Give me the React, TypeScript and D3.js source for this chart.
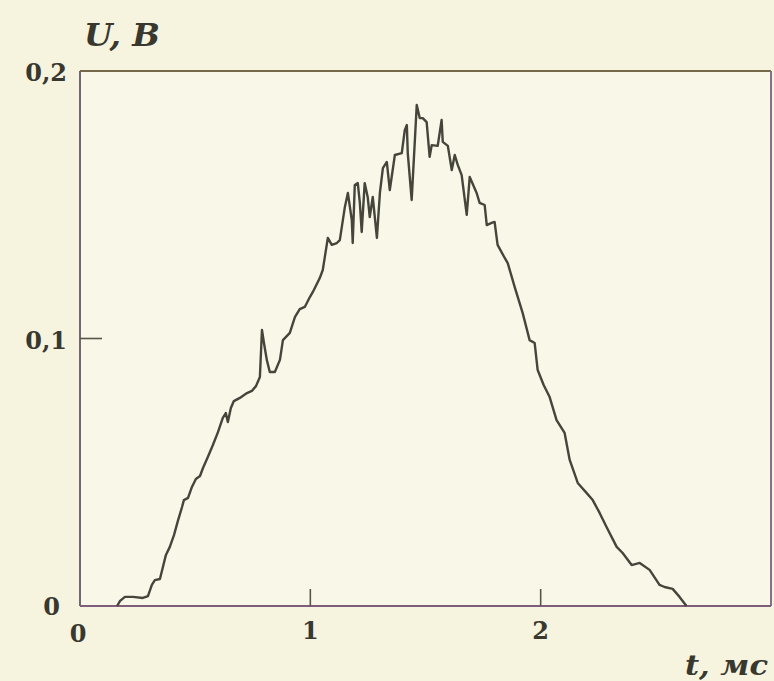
import React from "react";
import * as d3 from "d3";

// time, ms
const tValues = [
  0.161, 0.174, 0.195, 0.230, 0.273, 0.295, 0.312, 0.325, 0.347, 0.360,
  0.373, 0.390, 0.408, 0.425, 0.443, 0.451, 0.469, 0.486, 0.503, 0.521,
  0.534, 0.555, 0.577, 0.599, 0.620, 0.633, 0.642, 0.655, 0.668, 0.694,
  0.725, 0.746, 0.764, 0.781, 0.790, 0.798, 0.811, 0.824, 0.846, 0.868,
  0.881, 0.911, 0.933, 0.954, 0.976, 0.998, 1.011, 1.041, 1.054, 1.063,
  1.076, 1.093, 1.115, 1.128, 1.150, 1.163, 1.180, 1.184, 1.193, 1.206,
  1.215, 1.223, 1.236, 1.249, 1.258, 1.271, 1.289, 1.302, 1.315, 1.332,
  1.345, 1.367, 1.397, 1.410, 1.419, 1.423, 1.440, 1.462, 1.475, 1.488,
  1.505, 1.518, 1.527, 1.553, 1.570, 1.575, 1.597, 1.614, 1.627, 1.640,
  1.657, 1.679, 1.692, 1.722, 1.735, 1.757, 1.766, 1.787, 1.800, 1.813,
  1.844, 1.857, 1.887, 1.922, 1.952, 1.974, 1.987, 2.013, 2.039, 2.069,
  2.104, 2.126, 2.161, 2.200, 2.226, 2.256, 2.286, 2.330, 2.356, 2.395,
  2.430, 2.473, 2.516, 2.538, 2.573, 2.603, 2.633,
];

// voltage, V
const uValues = [
  0.0000, 0.0019, 0.0034, 0.0034, 0.0030, 0.0037, 0.0079, 0.0097, 0.0101, 0.0146,
  0.0191, 0.0221, 0.0265, 0.0318, 0.0370, 0.0396, 0.0404, 0.0445, 0.0475, 0.0486,
  0.0516, 0.0557, 0.0602, 0.0650, 0.0703, 0.0721, 0.0688, 0.0740, 0.0766, 0.0778,
  0.0796, 0.0804, 0.0822, 0.0856, 0.1032, 0.0987, 0.0920, 0.0875, 0.0875, 0.0920,
  0.0994, 0.1021, 0.1080, 0.1110, 0.1118, 0.1155, 0.1174, 0.1226, 0.1256, 0.1305,
  0.1376, 0.1350, 0.1357, 0.1368, 0.1492, 0.1544, 0.1443, 0.1357, 0.1574, 0.1581,
  0.1507, 0.1398, 0.1581, 0.1529, 0.1454, 0.1529, 0.1376, 0.1544, 0.1637, 0.1660,
  0.1555, 0.1686, 0.1693, 0.1779, 0.1798, 0.1693, 0.1518, 0.1873, 0.1824, 0.1824,
  0.1809, 0.1679, 0.1723, 0.1720, 0.1817, 0.1735, 0.1720, 0.1630, 0.1686, 0.1649,
  0.1611, 0.1462, 0.1604, 0.1544, 0.1507, 0.1499, 0.1424, 0.1432, 0.1436, 0.1350,
  0.1301, 0.1282, 0.1193, 0.1095, 0.0994, 0.0983, 0.0882, 0.0826, 0.0781, 0.0695,
  0.0647, 0.0546, 0.0460, 0.0422, 0.0396, 0.0348, 0.0295, 0.0221, 0.0198, 0.0153,
  0.0161, 0.0135, 0.0079, 0.0071, 0.0064, 0.0034, 0.0000,
];

const xTicks = [1, 2];
const xTickLabels = ["1", "2"];
const yTicks = [0.1];
const yLabelValues = [0, 0.1, 0.2];
const yTickLabels = ["0", "0,1", "0,2"];
const xAxisTitle = "t, мс";
const yAxisTitle = "U, B";

const W = 774;
const H = 681;
const M = { left: 80, right: 771, top: 71, bottom: 606 };

export default function App() {
  const x = d3.scaleLinear().domain([0, 3]).range([M.left, M.right]);
  const y = d3.scaleLinear().domain([0, 0.2]).range([M.bottom, M.top]);
  const pts: [number, number][] = tValues.map((t, i) => [t, uValues[i]]);
  const line = d3
    .line<[number, number]>()
    .x((d) => x(d[0]))
    .y((d) => y(d[1]))
    .curve(d3.curveLinear);

  const font = "'DejaVu Serif', 'Liberation Serif', serif";
  const textColor = "#38382f";

  return (
    <svg
      width={W}
      height={H}
      style={{ position: "absolute", left: 0, top: 0, display: "block" }}
    >
      <rect x={0} y={0} width={W} height={H} fill="#f6f3df" />
      <rect
        x={M.left}
        y={M.top}
        width={M.right - M.left}
        height={M.bottom - M.top}
        fill="#f9f7e8"
      />
      {/* frame */}
      <line x1={M.left} x2={M.right} y1={M.top} y2={M.top} stroke="#76694a" strokeWidth={2} />
      <line x1={M.right} x2={M.right} y1={M.top} y2={M.bottom} stroke="#8a6f8a" strokeWidth={2} />
      <line x1={M.left} x2={M.left} y1={M.top} y2={M.bottom} stroke="#746474" strokeWidth={2} />
      <line x1={M.left} x2={M.right} y1={M.bottom} y2={M.bottom} stroke="#7e5e7c" strokeWidth={2.2} />

      {/* ticks */}
      {xTicks.map((t) => (
        <line key={"xt" + t} x1={x(t)} x2={x(t)} y1={M.bottom} y2={M.bottom - 17} stroke="#55554a" strokeWidth={1.6} />
      ))}
      {yTicks.map((t) => (
        <line key={"yt" + t} x1={M.left} x2={M.left + 22} y1={y(t)} y2={y(t)} stroke="#55554a" strokeWidth={1.6} />
      ))}

      {/* signal */}
      <path d={line(pts) || ""} fill="none" stroke="#45453b" strokeWidth={2.4} strokeLinejoin="round" />

      {/* y tick labels */}
      {yLabelValues.map((v, i) => (
        <text
          key={"yl" + v}
          x={v === 0 ? 60 : 67}
          y={y(v) + (v === 0 ? 9 : 10)}
          textAnchor="end"
          fontFamily={font}
          fontWeight="bold"
          fontSize={24}
          fill={textColor}
        >
          {yTickLabels[i]}
        </text>
      ))}
      {/* x tick labels */}
      <text x={x(0) - 2} y={642} textAnchor="middle" fontFamily={font} fontWeight="bold" fontSize={24} fill={textColor}>
        0
      </text>
      {xTicks.map((t, i) => (
        <text key={"xl" + t} x={x(t)} y={639} textAnchor="middle" fontFamily={font} fontWeight="bold" fontSize={24} fill={textColor}>
          {xTickLabels[i]}
        </text>
      ))}

      {/* axis titles */}
      <text x={84} y={46} fontFamily={font} fontWeight="bold" fontStyle="italic" fontSize={32} fill={textColor} textLength={76} lengthAdjust="spacingAndGlyphs">
        {yAxisTitle}
      </text>
      <text x={685} y={675} fontFamily={font} fontWeight="bold" fontStyle="italic" fontSize={28} fill={textColor} textLength={83} lengthAdjust="spacingAndGlyphs">
        {xAxisTitle}
      </text>
    </svg>
  );
}
